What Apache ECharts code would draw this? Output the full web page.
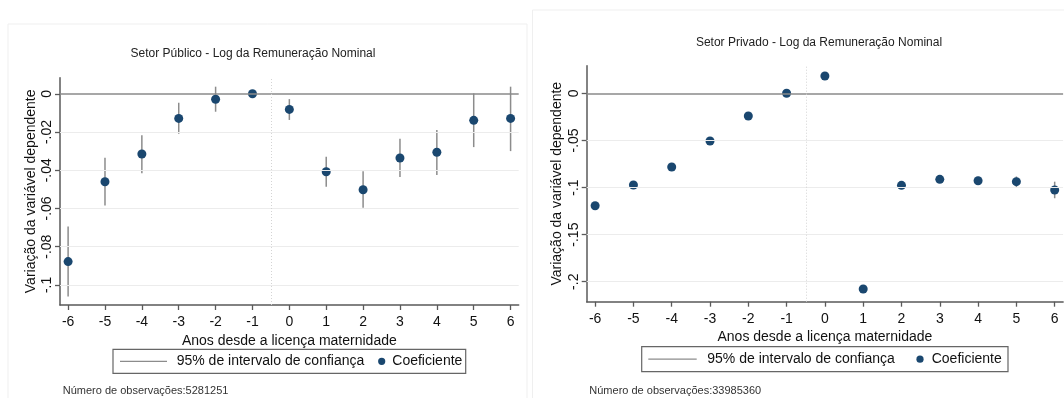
<!DOCTYPE html>
<html>
<head>
<meta charset="utf-8">
<script src="https://cdn.jsdelivr.net/npm/echarts@6/dist/echarts.min.js"></script>
<style>
  html, body { margin: 0; padding: 0; background: #ffffff; }
  #chart { width: 1064px; height: 398px; }
</style>
</head>
<body>
<div id="chart"></div>
<script>
// Event-study coefficients: log nominal earnings around maternity leave
const years = [-6, -5, -4, -3, -2, -1, 0, 1, 2, 3, 4, 5, 6];

// Public sector
const publicCoef = [-0.0878, -0.0460, -0.0315, -0.0129, -0.0029, 0, -0.0082, -0.0408, -0.0502, -0.0336, -0.0306, -0.0139, -0.0129];
const publicLow  = [-0.1061, -0.0585, -0.0416, -0.0209, -0.0094, null, -0.0137, -0.0486, -0.0596, -0.0435, -0.0425, -0.0279, -0.0300];
const publicHigh = [-0.0695, -0.0335, -0.0217, -0.0047, 0.0037, null, -0.0028, -0.0329, -0.0406, -0.0235, -0.0190, 0.0002, 0.0037];
const publicYTicks = [0, -0.02, -0.04, -0.06, -0.08, -0.1];
const publicYLabels = ['0', '-.02', '-.04', '-.06', '-.08', '-.1'];

// Private sector
const privateCoef = [-0.1193, -0.0973, -0.0782, -0.0506, -0.0241, 0, 0.0184, -0.2077, -0.0977, -0.0913, -0.0928, -0.0938, -0.1026];
const privateLow  = [-0.1213, -0.0990, -0.0797, -0.0520, -0.0254, null, 0.0170, -0.2100, -0.1000, -0.0935, -0.0970, -0.0993, -0.1114];
const privateHigh = [-0.1173, -0.0956, -0.0767, -0.0492, -0.0228, null, 0.0198, -0.2054, -0.0954, -0.0891, -0.0886, -0.0883, -0.0938];
const privateYTicks = [0, -0.05, -0.1, -0.15, -0.2];
const privateYLabels = ['0', '-.05', '-.1', '-.15', '-.2'];

const xTicks = [-6, -5, -4, -3, -2, -1, 0, 1, 2, 3, 4, 5, 6];

const titles = ['Setor Público - Log da Remuneração Nominal', 'Setor Privado - Log da Remuneração Nominal'];
const yName = 'Variação da variável dependente';
const xName = 'Anos desde a licença maternidade';
const legendCI = '95% de intervalo de confiança';
const legendCoef = 'Coeficiente';
const notes = ['Número de observações:5281251', 'Número de observações:33985360'];

const FONT = '"Liberation Sans", Arial, sans-serif';
const NAVY = '#1a476f';
const CI_GRAY = '#8c8c8c';
const AXIS = '#5a5a5a';

const chart = echarts.init(document.getElementById('chart'), null, { renderer: 'canvas' });

function xAxisFor(gridIndex) {
  return {
    type: 'value', gridIndex, min: -6.22, max: 6.22,
    name: xName, nameLocation: 'middle', nameGap: 22,
    nameTextStyle: { fontFamily: FONT, fontSize: 14, color: '#111' },
    axisLine: { onZero: false, lineStyle: { color: AXIS, width: 1.5 } },
    axisTick: { show: true, length: 5, customValues: xTicks, lineStyle: { color: AXIS, width: 1.3 } },
    axisLabel: { customValues: xTicks, margin: 10, fontFamily: FONT, fontSize: 14, color: '#111',
                 formatter: v => String(v) },
    splitLine: { show: false }
  };
}

function yAxisFor(gridIndex, min, max, ticks, labels, nameGap) {
  return {
    type: 'value', gridIndex, min, max,
    name: yName, nameLocation: 'middle', nameGap, nameRotate: 90,
    nameTextStyle: { fontFamily: FONT, fontSize: 14, color: '#111' },
    axisLine: { show: true, onZero: false, lineStyle: { color: AXIS, width: 1.5 } },
    axisTick: { show: true, length: 5, customValues: ticks, lineStyle: { color: AXIS, width: 1.3 } },
    axisLabel: { customValues: ticks, rotate: 90, margin: 6, fontFamily: FONT, fontSize: 14, color: '#111',
                 formatter: v => {
                   const i = ticks.findIndex(t => Math.abs(t - v) < 1e-9);
                   return i >= 0 ? labels[i] : '';
                 } },
    splitLine: { show: false }
  };
}

function ciSeries(idx, low, high) {
  const data = [];
  years.forEach((y, i) => { if (low[i] !== null) data.push([y, low[i], high[i]]); });
  return {
    type: 'custom', xAxisIndex: idx, yAxisIndex: idx, z: 2, silent: true,
    encode: { x: 0, y: [1, 2] },
    data,
    renderItem(params, api) {
      const p1 = api.coord([api.value(0), api.value(1)]);
      const p2 = api.coord([api.value(0), api.value(2)]);
      return { type: 'line', shape: { x1: p1[0], y1: p1[1], x2: p2[0], y2: p2[1] },
               style: { stroke: CI_GRAY, lineWidth: 1.5 } };
    }
  };
}

function guideSeries(idx, ticks) {
  // reference lines: tick gridlines, zero line, and the event boundary at -0.5
  const lines = ticks.filter(t => t !== 0).map(t => ({ yAxis: t, lineStyle: { color: '#ececec', width: 1, type: 'solid' } }));
  lines.push({ yAxis: 0, lineStyle: { color: '#8a8a8a', width: 1.6, type: 'solid' } });
  lines.push({ xAxis: -0.5, lineStyle: { color: '#d4d4d4', width: 1, type: [1, 2] } });
  return {
    type: 'line', xAxisIndex: idx, yAxisIndex: idx, data: [], z: 1, silent: true,
    markLine: { symbol: 'none', silent: true, animation: false, label: { show: false }, data: lines }
  };
}

function pointSeries(idx, coef) {
  return {
    type: 'scatter', xAxisIndex: idx, yAxisIndex: idx, z: 3,
    symbol: 'circle', symbolSize: 9,
    itemStyle: { color: NAVY, opacity: 1 },
    data: years.map((y, i) => [y, coef[i]])
  };
}

function legendBox(x, y, w, h, lineX1, lineX2, textX, dotX, coefX) {
  const cy = y + h / 2;
  return [
    { type: 'rect', shape: { x, y, width: w, height: h }, style: { fill: '#fff', stroke: '#666', lineWidth: 1.2 }, silent: true },
    { type: 'line', shape: { x1: lineX1, y1: cy, x2: lineX2, y2: cy }, style: { stroke: CI_GRAY, lineWidth: 1.3 }, silent: true },
    { type: 'text', x: textX, y: cy, style: { text: legendCI, font: '14px ' + FONT, fill: '#111', verticalAlign: 'middle' }, silent: true },
    { type: 'circle', shape: { cx: dotX, cy, r: 3.6 }, style: { fill: NAVY }, silent: true },
    { type: 'text', x: coefX, y: cy, style: { text: legendCoef, font: '14px ' + FONT, fill: '#111', verticalAlign: 'middle' }, silent: true }
  ];
}

const option = {
  animation: false,
  backgroundColor: '#ffffff',
  grid: [
    { left: 60, top: 77.7, width: 458.7, height: 227.3 },
    { left: 586.7, top: 65.7, width: 476.4, height: 236 }
  ],
  xAxis: [xAxisFor(0), xAxisFor(1)],
  yAxis: [
    yAxisFor(0, -0.1105, 0.0084, publicYTicks, publicYLabels, 22),
    yAxisFor(1, -0.2212, 0.0293, privateYTicks, privateYLabels, 23)
  ],
  series: [
    guideSeries(0, publicYTicks), ciSeries(0, publicLow, publicHigh), pointSeries(0, publicCoef),
    guideSeries(1, privateYTicks), ciSeries(1, privateLow, privateHigh), pointSeries(1, privateCoef)
  ],
  graphic: [
    // panel frames
    { type: 'rect', z: -10, shape: { x: 8, y: 24, width: 519, height: 380 }, style: { fill: 'none', stroke: '#efefef', lineWidth: 1 }, silent: true },
    { type: 'rect', z: -10, shape: { x: 532.5, y: 10, width: 540, height: 400 }, style: { fill: 'none', stroke: '#efefef', lineWidth: 1 }, silent: true },
    // titles
    { type: 'text', x: 253, y: 54, style: { text: titles[0], font: '12px ' + FONT, fill: '#222', align: 'center', verticalAlign: 'middle' }, silent: true },
    { type: 'text', x: 819, y: 43, style: { text: titles[1], font: '12px ' + FONT, fill: '#222', align: 'center', verticalAlign: 'middle' }, silent: true },
    // legends
    ...legendBox(113, 349.3, 352.7, 24, 120, 167, 176.7, 381.7, 392.3),
    ...legendBox(641.7, 346.7, 366.3, 25, 648.3, 696.7, 707.3, 920, 931.7),
    // observation counts
    { type: 'text', x: 62.7, y: 391, style: { text: notes[0], font: '11px ' + FONT, fill: '#333', verticalAlign: 'middle' }, silent: true },
    { type: 'text', x: 589.3, y: 391, style: { text: notes[1], font: '11px ' + FONT, fill: '#333', verticalAlign: 'middle' }, silent: true }
  ]
};

chart.setOption(option);
</script>
</body>
</html>
